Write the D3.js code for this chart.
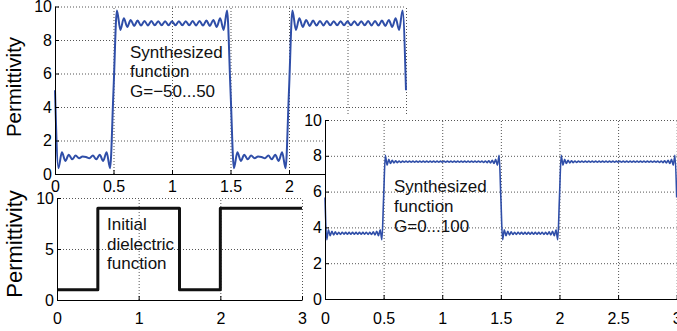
<!DOCTYPE html>
<html>
<head>
<meta charset="utf-8">
<script src="https://cdn.jsdelivr.net/npm/d3@7"></script>
<style>
  body { margin: 0; background: #fff; }
  svg { display: block; font-family: "Liberation Sans", Arial, sans-serif; }
  .grid line { stroke: #555; stroke-dasharray: 1,2; }
  .grid path { display: none; }
  .axis path, .axis line { stroke: #000; }
  .axis text { font-size: 16px; fill: #000; font-family: "Liberation Sans", Arial, sans-serif; }
  .note { font-size: 17px; fill: #111; }
  .ylab { font-size: 20px; fill: #000; }
</style>
</head>
<body>
<div id="chart"></div>
<script>
// initial dielectric function (step levels starting at each break)
const stepX = [0, 0.5, 1.5, 2, 3];
const stepEps = [1, 9, 1, 9, 9];

// synthesized G=-50...50, read at 103 evenly spaced samples over 0..3
const g50Low = [5.0, 0.35, 1.3, 0.78, 1.15, 0.88, 1.1, 0.94, 1.04, 1.02, 0.94, 1.1, 0.88, 1.15, 0.78, 1.3, 0.35];
const g50High = [5.0, 9.76, 8.6, 9.3, 8.78, 9.2, 8.84, 9.16, 8.86, 9.14, 8.87, 9.13, 8.88, 9.12, 8.88, 9.12, 8.88,
                 9.12, 8.88, 9.12, 8.88, 9.12, 8.88, 9.13, 8.87, 9.14, 8.86, 9.16, 8.84, 9.2, 8.78, 9.3, 8.6, 9.76];
const g50 = [...g50Low, ...g50High, ...g50Low, ...g50High, 5.0];

// synthesized G=0...100, read at 205 evenly spaced samples over 0..3
const g100Low = [5.67, 3.31, 3.86, 3.54, 3.78, 3.58, 3.75, 3.6, 3.73, 3.61, 3.73, 3.62, 3.72, 3.62, 3.72, 3.62, 3.72,
                 3.62, 3.72, 3.62, 3.72, 3.62, 3.72, 3.62, 3.73, 3.61, 3.73, 3.6, 3.75, 3.58, 3.78, 3.54, 3.86, 3.31];
const g100High = [5.67, 8.03, 7.48, 7.8, 7.57, 7.75, 7.6, 7.72, 7.62, 7.71, 7.63,
                  7.7, 7.64, 7.7, 7.64, 7.7, 7.64, 7.7, 7.64, 7.7, 7.64, 7.7, 7.64, 7.7, 7.64, 7.7, 7.64,
                  7.7, 7.64, 7.7, 7.64, 7.7, 7.64, 7.7, 7.64, 7.7, 7.64, 7.7, 7.64, 7.7, 7.64, 7.7, 7.64,
                  7.7, 7.64, 7.7, 7.64, 7.7, 7.64, 7.7, 7.64, 7.7, 7.64, 7.7, 7.64, 7.7, 7.64, 7.7,
                  7.63, 7.71, 7.62, 7.72, 7.6, 7.75, 7.57, 7.8, 7.48, 8.03];
const g100 = [...g100Low, ...g100High, ...g100Low, ...g100High, 5.67];

const halfTicks = [0, 0.5, 1, 1.5, 2, 2.5, 3];
const topLabelTicks = [0, 0.5, 1, 1.5, 2];   // the rest sit under the right panel
const unitTicks = [0, 1, 2, 3];
const evenTicks = [0, 2, 4, 6, 8, 10];
const fiveTicks = [0, 5, 10];

const W = 677, H = 331;
const svg = d3.select("#chart").append("svg").attr("width", W).attr("height", H);

function sampled(vals) {
  return vals.map((v, i) => [i * 3 / (vals.length - 1), v]);
}

function panel(cfg) {
  const x = d3.scaleLinear().domain([0, 3]).range(cfg.xr);
  const y = d3.scaleLinear().domain([0, 10]).range(cfg.yr);
  const g = svg.append("g");

  if (cfg.bg) {
    g.append("rect").attr("x", cfg.bg[0]).attr("y", cfg.bg[1])
      .attr("width", W - cfg.bg[0]).attr("height", H - cfg.bg[1]).attr("fill", "#fff");
  }

  // dotted grid
  g.append("g").attr("class", "grid").attr("transform", "translate(0," + cfg.yr[0] + ")")
    .call(d3.axisBottom(x).tickValues(cfg.xTicks.filter(d => d > 0))
      .tickSize(-(cfg.yr[0] - cfg.yr[1])).tickFormat(""));
  g.append("g").attr("class", "grid").attr("transform", "translate(" + cfg.xr[0] + ",0)")
    .call(d3.axisLeft(y).tickValues(cfg.yTicks.filter(d => d > 0))
      .tickSize(-(cfg.xr[1] - cfg.xr[0])).tickFormat(""));

  const line = d3.line().x(d => x(d[0])).y(d => y(d[1])).curve(cfg.curve);
  g.append("path").datum(cfg.points)
    .attr("fill", "none").attr("stroke", cfg.color).attr("stroke-width", cfg.width)
    .attr("stroke-linejoin", "round").attr("d", line);

  g.append("g").attr("class", "axis").attr("transform", "translate(0," + cfg.yr[0] + ")")
    .call(d3.axisBottom(x).tickValues(cfg.xLabelTicks || cfg.xTicks).tickSizeInner(-4).tickSizeOuter(0)
      .tickPadding(cfg.xPad).tickFormat(d3.format("")));
  g.append("g").attr("class", "axis").attr("transform", "translate(" + cfg.xr[0] + ",0)")
    .call(d3.axisLeft(y).tickValues(cfg.yTicks).tickSizeInner(-4).tickSizeOuter(0)
      .tickPadding(3).tickFormat(d3.format("")));

  if (cfg.ylab) {
    g.append("text").attr("class", "ylab").attr("text-anchor", "middle")
      .style("font-size", cfg.ylab.size + "px")
      .attr("transform", "translate(" + cfg.ylab.x + "," + cfg.ylab.y + ") rotate(-90)")
      .text("Permittivity");
  }

  const note = g.append("text").attr("class", "note");
  cfg.note.lines.forEach((t, i) => {
    note.append("tspan").attr("x", cfg.note.x).attr("y", cfg.note.y + i * cfg.note.dy).text(t);
  });
}

// top: G=-50...50
panel({
  xr: [55, 406], yr: [174, 6.5], xTicks: halfTicks, xLabelTicks: topLabelTicks, yTicks: evenTicks, xPad: 7,
  points: sampled(g50), curve: d3.curveMonotoneX, color: "#2f4ea8", width: 2,
  ylab: { x: 21, y: 87, size: 20.5 },
  note: { x: 130, y: 58, dy: 19.3, lines: ["Synthesized", "function", "G=\u221250...50"] }
});

// bottom left: initial dielectric function
panel({
  xr: [57, 302], yr: [300, 198], xTicks: unitTicks, yTicks: fiveTicks, xPad: 13,
  points: stepX.map((d, i) => [d, stepEps[i]]), curve: d3.curveStepAfter, color: "#111", width: 3,
  ylab: { x: 22, y: 244, size: 22 },
  note: { x: 107, y: 230, dy: 19.5, lines: ["Initial", "dielectric", "function"] }
});

// right: G=0...100
panel({
  bg: [325, 116],
  xr: [325, 676.7], yr: [299, 120], xTicks: halfTicks, yTicks: evenTicks, xPad: 14,
  points: sampled(g100), curve: d3.curveMonotoneX, color: "#2f4ea8", width: 1.6,
  note: { x: 394, y: 192, dy: 20, lines: ["Synthesized", "function", "G=0...100"] }
});
</script>
</body>
</html>
